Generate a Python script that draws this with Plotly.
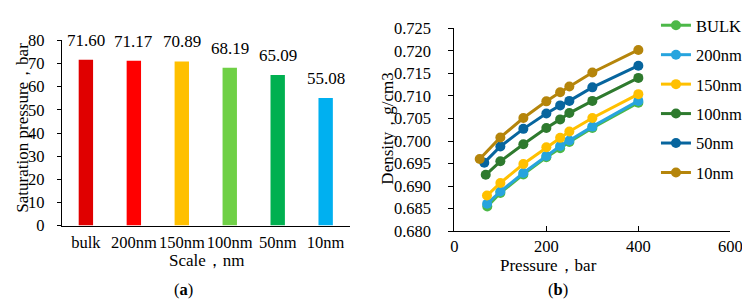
import plotly.graph_objects as go

# ---- Panel (a) data ----
scales = ["bulk", "200nm", "150nm", "100nm", "50nm", "10nm"]
sat_pressure = [71.60, 71.17, 70.89, 68.19, 65.09, 55.08]
bar_colors = ["#E00000", "#FF0000", "#FFC000", "#6FD046", "#00B050", "#00B0F0"]

# ---- Panel (b) data ----
pressure_common = [100, 150, 200, 230, 250, 300, 400]
series_names = ["BULK", "200nm", "150nm", "100nm", "50nm", "10nm"]
first_pressure = [71.60, 71.17, 70.89, 68.19, 65.09, 55.08]
density_bulk = [0.6855, 0.6885, 0.6926, 0.6964, 0.6984, 0.6998, 0.7029, 0.7085]
density_200 = [0.6861, 0.6888, 0.6929, 0.6967, 0.6989, 0.7001, 0.7032, 0.7089]
density_150 = [0.6879, 0.6907, 0.6949, 0.6986, 0.7007, 0.7021, 0.7051, 0.7104]
density_100 = [0.6925, 0.6955, 0.6993, 0.7029, 0.7048, 0.7062, 0.7089, 0.7140]
density_50 = [0.6952, 0.6988, 0.7027, 0.7061, 0.7079, 0.7089, 0.7119, 0.7167]
density_10 = [0.6960, 0.7008, 0.7051, 0.7088, 0.7108, 0.7121, 0.7152, 0.7202]
densities = [density_bulk, density_200, density_150, density_100, density_50, density_10]
line_colors = ["#4CB848", "#27A4DE", "#FFC000", "#2E7A2E", "#07659E", "#B5850B"]

FONT = "Liberation Serif"
W, H = 750, 303


def px(xp, yp):
    return xp / W, 1 - yp / H


fig = go.Figure()

fig.add_trace(go.Bar(
    x=scales, y=sat_pressure, marker_color=bar_colors, marker_line_width=0,
    width=0.3, showlegend=False, xaxis="x", yaxis="y",
))

for i, name in enumerate(series_names):
    fig.add_trace(go.Scatter(
        x=[first_pressure[i]] + pressure_common, y=densities[i],
        mode="lines+markers", name=name,
        line=dict(color=line_colors[i], width=3),
        marker=dict(color=line_colors[i], size=10),
        xaxis="x2", yaxis="y2", legendgroup=name,
    ))

tfont = dict(family=FONT, size=16.5, color="black")
bigfont = dict(family=FONT, size=17, color="black")
annotations = []
for s, v in zip(scales, sat_pressure):
    annotations.append(dict(
        x=s, y=v, xref="x", yref="y", text=f"{v:.2f}", showarrow=False,
        yanchor="bottom", yshift=8, font=bigfont,
    ))


def add_text(text, xp, yp, angle=0, font=bigfont):
    x, y = px(xp, yp)
    annotations.append(dict(x=x, y=y, xref="paper", yref="paper", text=text,
                            showarrow=False, textangle=angle, font=font,
                            xanchor="center", yanchor="middle"))


add_text("(<b>a</b>)", 175, 291, font=tfont)
add_text("(<b>b</b>)", 558, 291, font=tfont)
add_text("Scale，nm", 199, 259)
add_text("Pressure，bar", 548, 265)
add_text("Saturation pressure，bar", 11, 117, -90)
add_text("Density，g/cm3", 384, 118, -90)

axis_common = dict(showline=True, linecolor="black", linewidth=1, showgrid=False,
                   zeroline=False, tickfont=tfont)

fig.update_layout(
    width=W, height=H,
    margin=dict(l=0, r=0, t=0, b=0),
    paper_bgcolor="white", plot_bgcolor="white",
    font=dict(family=FONT, size=16, color="black"),
    annotations=annotations,
    xaxis=dict(domain=[51 / W, 345 / W], anchor="y", ticks="", ticklabelstandoff=2,
               tickangle=0, **axis_common),
    yaxis=dict(domain=[1 - 222 / H, 1 - 23 / H], anchor="x", range=[0, 80], dtick=10,
               ticks="outside", ticklen=4, tickcolor="black", ticklabelstandoff=9,
               **axis_common),
    xaxis2=dict(domain=[452 / W, 734 / W], anchor="y2", range=[0, 600], dtick=200,
                ticks="inside", ticklen=5, tickcolor="black", ticklabelstandoff=0,
                tickangle=0, **axis_common),
    yaxis2=dict(domain=[1 - 228 / H, 1 - 10 / H], anchor="x2", range=[0.680, 0.725],
                dtick=0.005, tickformat=".3f", ticks="outside", ticklen=5,
                tickcolor="black", ticklabelstandoff=14,
                **axis_common),
    legend=dict(x=658 / W, y=1.04, xanchor="left", yanchor="top", bgcolor="rgba(0,0,0,0)",
                font=tfont, traceorder="grouped", tracegroupgap=5, itemwidth=30,
                maxheight=400),
)

fig.write_html("out.html")
